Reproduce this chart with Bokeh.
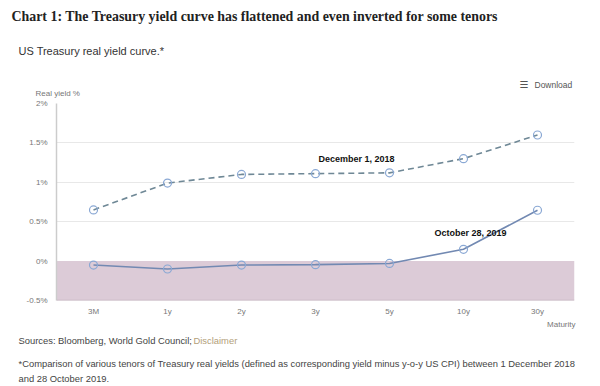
from bokeh.plotting import figure
from bokeh.models import Label, BoxAnnotation, FixedTicker, Span, Range1d
from bokeh.layouts import column
from bokeh.core.properties import value
from bokeh.embed import file_html
from bokeh.resources import INLINE

tenors = ["3M", "1y", "2y", "3y", "5y", "10y", "30y"]
dec_2018 = [0.65, 0.99, 1.10, 1.11, 1.12, 1.30, 1.60]
oct_2019 = [-0.05, -0.10, -0.05, -0.045, -0.03, 0.15, 0.645]
y_ticks = [-0.5, 0, 0.5, 1, 1.5, 2]
y_tick_labels = ["-0.5%", "0%", "0.5%", "1%", "1.5%", "2%"]

W = 600
HEAD_H = 98
FL, FR, FT, FB = 56, 26, 5, 20
FRAME_H = 197
MAIN_H = FT + FRAME_H + FB
FOOT_H = 386 - HEAD_H - MAIN_H

def no_align(f):
    if "frame_align" in f.properties():
        f.frame_align = False
    return f

def text_fig(h):
    f = figure(width=W, height=h, x_range=Range1d(0, W), y_range=Range1d(h, 0),
               output_backend="svg", toolbar_location=None,
               min_border=0, min_border_left=0, min_border_right=0,
               min_border_top=0, min_border_bottom=0)
    f.axis.visible = False
    f.grid.visible = False
    f.outline_line_color = None
    return no_align(f)

def txt(f, s, x, y, size, color="#444444", font="Liberation Sans", style="normal",
        align="left"):
    f.text(x=[x], y=[y], text=[s], text_font=value(font), text_font_size=size,
           text_color=color, text_font_style=style, text_align=align,
           text_baseline="middle")

# header
head = text_fig(HEAD_H)
txt(head, "Chart 1: The Treasury yield curve has flattened and even inverted for some tenors",
    11, 16, "13.9px", color="#222222", font="Liberation Serif", style="bold")
txt(head, "US Treasury real yield curve.*", 18, 50, "11px", color="#333333")
txt(head, "☰", 519, 84, "10px", color="#555555", font="DejaVu Sans")
txt(head, "Download", 534, 84, "8.5px", color="#555555")
txt(head, "Real yield %", 35, 93, "8px", color="#777777")

# main chart
p = figure(width=W, height=MAIN_H, x_range=tenors, y_range=(-0.5, 2.0),
           output_backend="svg", toolbar_location=None,
           min_border_left=FL, min_border_right=FR, min_border_top=FT, min_border_bottom=FB)
no_align(p)
p.outline_line_color = None

p.add_layout(BoxAnnotation(top=0, bottom=-0.5, fill_color="#dccbd7", fill_alpha=1.0,
                           line_color=None, level="underlay"))
p.add_layout(Span(location=-0.5, dimension="width", line_color="#c4b4c0", line_width=1.5))

p.yaxis.ticker = FixedTicker(ticks=y_ticks)
p.yaxis.major_label_overrides = {t: l for t, l in zip(y_ticks, y_tick_labels)}
p.yaxis.axis_line_color = "#cccccc"
p.yaxis.axis_line_width = 1.5
p.yaxis.major_tick_line_color = None
p.yaxis.minor_tick_line_color = None
p.yaxis.major_tick_out = 0
p.yaxis.major_tick_in = 0
p.yaxis.major_label_text_font = "Liberation Sans"
p.yaxis.major_label_text_font_size = "8px"
p.yaxis.major_label_text_color = "#777777"
p.yaxis.major_label_standoff = 9

xa = p.xaxis[0]
xa.axis_line_color = None
xa.major_tick_line_color = None
xa.minor_tick_line_color = None
xa.major_tick_out = 0
xa.major_tick_in = 0
xa.major_label_text_font = "Liberation Sans"
xa.major_label_text_font_size = "8px"
xa.major_label_text_color = "#777777"
xa.major_label_standoff = 6

p.xgrid.grid_line_color = None
p.ygrid.grid_line_color = "#e8e8e8"
p.ygrid.ticker = FixedTicker(ticks=[0.5, 1, 1.5, 2])

p.line(tenors, dec_2018, line_color="#6f8896", line_width=1.6, line_dash="6 4")
p.scatter(tenors, dec_2018, marker="circle", size=8, fill_color=None,
          line_color="#8aa8d4", line_width=1.2)
p.line(tenors, oct_2019, line_color="#7289b2", line_width=1.6)
p.scatter(tenors, oct_2019, marker="circle", size=8, fill_color=None,
          line_color="#8aa8d4", line_width=1.2)

def lab(s, x, y):
    p.add_layout(Label(x=x, y=y, x_units="screen", y_units="screen", text=s,
                       text_font="Liberation Sans", text_font_size="9px",
                       text_color="#111111", text_font_style="bold",
                       text_align="left", text_baseline="middle"))

# positions relative to frame bottom-left
lab("December 1, 2018", 318 - FL, 300 - 158)
lab("October 28, 2019", 434 - FL, 300 - 232)

# footer
foot = text_fig(FOOT_H)
y0 = HEAD_H + MAIN_H
txt(foot, "Maturity", 575, 324 - y0, "8px", color="#777777", align="right")
txt(foot, "Sources: Bloomberg, World Gold Council; ", 18, 340 - y0, "9.4px", color="#444444")
txt(foot, "Disclaimer", 193, 340 - y0, "9.4px", color="#b3a07a")
txt(foot, "*Comparison of various tenors of Treasury real yields (defined as corresponding yield minus y-o-y US CPI) between 1 December 2018",
    18, 363 - y0, "9.4px", color="#444444")
txt(foot, "and 28 October 2019.", 18, 378 - y0, "9.4px", color="#444444")

layout = column(head, p, foot, spacing=0)
open("out.html", "w").write(file_html(layout, INLINE))
